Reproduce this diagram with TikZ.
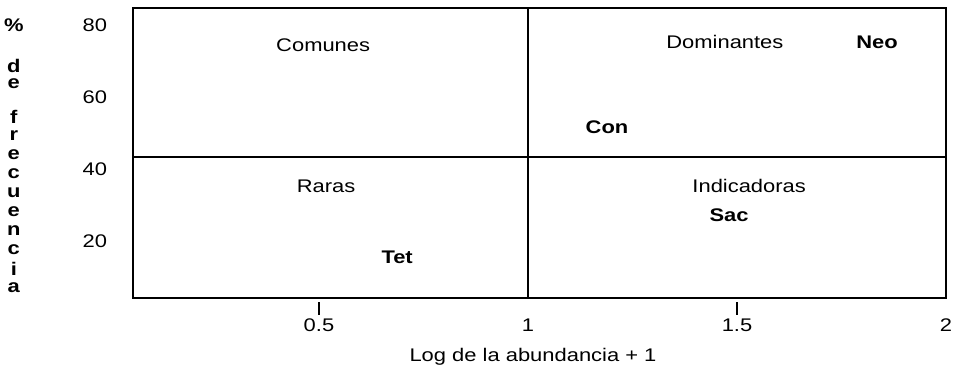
\documentclass[tikz,border=0pt]{standalone}
\usepackage{fontspec}
\setmainfont{Liberation Sans}[FakeStretch=1.2]

\begin{document}
\begin{tikzpicture}[x=8.36cm, y=0.072cm, line width=1.1pt,
    lbl/.style={font=\fontsize{10.4}{12}\selectfont, inner sep=0pt},
    spc/.style={inner sep=0pt, font=\fontsize{10.4}{12}\selectfont\bfseries}]
  \useasboundingbox (-0.263, -15.56) rectangle (2.019, 86.94);

  % frame split in four
  \draw (0.055, 4.17) rectangle (2, 84.72);
  \draw (0.055, 43.33) -- (2, 43.33);
  \draw (1, 4.17) -- (1, 84.72);

  % x axis
  \foreach \t in {0.5, 1.5}
    \draw[line width=0.8pt] (\t, 3.06) -- (\t, -0.56);
  \foreach \t [count=\i] in {0.5, 1, 1.5, 2}
    \node[lbl] (xt\i) at (\t, -3.33) {\t};
  \node[lbl] (xtitle) at (1.012, -12.2) {Log de la abundancia + 1};

  % y axis
  \foreach \v in {20, 40, 60, 80}
    \node[lbl] (yt\v) at (-0.036, \v) {\v};
  \foreach \c/\v [count=\i] in {\%/80, d/68.61, e/63.61, f/54.44, r/49.17,
      e/43.89, c/38.61, u/33.33, e/28.06, n/22.78, c/17.5, i/12.22, a/6.94}
    \node[spc] (ytitle\i) at (-0.23, \v) {\c};

  % quadrants
  \node[lbl] (comunes) at (0.510, 74.44) {Comunes};
  \node[lbl] (dominantes) at (1.471, 75.28) {Dominantes};
  \node[lbl] (raras) at (0.517, 35.28) {Raras};
  \node[lbl] (indicadoras) at (1.529, 35.28) {Indicadoras};

  % species
  \node[spc] (neo) at (1.835, 75.28) {Neo};
  \node[spc] (con) at (1.189, 51.67) {Con};
  \node[spc] (sac) at (1.481, 27.22) {Sac};
  \node[spc] (tet) at (0.687, 15.56) {Tet};
\end{tikzpicture}
\end{document}
